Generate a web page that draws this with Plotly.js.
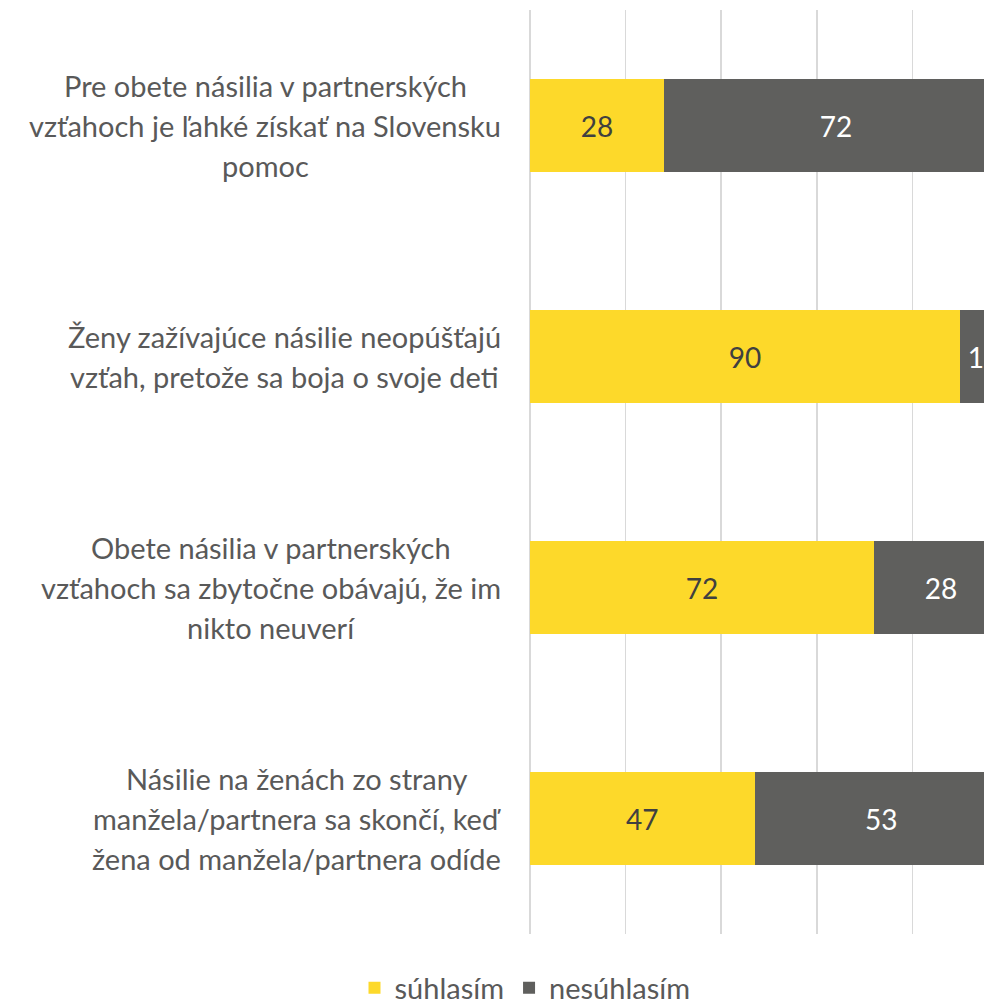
<!DOCTYPE html>
<html>
<head>
<meta charset="utf-8">
<script src="https://cdn.plot.ly/plotly-3.0.1.min.js"></script>
<style>
  html, body { margin: 0; padding: 0; overflow: hidden; background: #fff; }
</style>
</head>
<body>
<div id="chart"></div>
<script>
// data
var categories = [
    'Pre obete násilia v partnerských<br>vzťahoch je ľahké získať na Slovensku<br>pomoc',
    'Ženy zažívajúce násilie neopúšťajú<br>vzťah, pretože sa boja o svoje deti',
    'Obete násilia v partnerských<br>vzťahoch sa zbytočne obávajú, že im<br>nikto neuverí',
    'Násilie na ženách zo strany<br>manžela/partnera sa skončí, keď<br>žena od manžela/partnera odíde'
];
var suhlasim = [28, 90, 72, 47];
var nesuhlasim = [72, 10, 28, 53];
var seriesNames = ['súhlasím', 'nesúhlasím'];

var FONT = 'Lato, "Open Sans", sans-serif';
var FS = 29;
var W = 1008, H = 1002, ML = 530, MT = 10, MB = 68;
var plotW = W - ML;

var agree = {
    y: categories,
    x: suhlasim,
    name: seriesNames[0],
    type: 'bar',
    orientation: 'h',
    text: suhlasim.map(String),
    textposition: 'inside',
    insidetextanchor: 'middle',
    textfont: {family: FONT, size: 28, color: '#404040'},
    hoverinfo: 'x+name',
    marker: {color: '#FDD92A'}
};

var disagree = {
    y: categories,
    x: nesuhlasim,
    name: seriesNames[1],
    type: 'bar',
    orientation: 'h',
    text: nesuhlasim.map(String),
    textposition: 'inside',
    insidetextanchor: 'middle',
    textfont: {family: FONT, size: 28, color: '#ffffff'},
    hoverinfo: 'x+name',
    marker: {color: '#5F5F5D'}
};

// category labels: lines centred in a block whose right edge is at ~500px
var ctx = document.createElement('canvas').getContext('2d');
ctx.font = FS + 'px Lato';
var annotations = [];
categories.forEach(function (cat) {
    var lines = cat.split('<br>');
    var widest = Math.max.apply(null, lines.map(function (l) { return ctx.measureText(l).width; }));
    var cx = 501 - widest / 2;
    lines.forEach(function (line, i) {
        annotations.push({
            xref: 'paper', yref: 'y',
            x: (cx - ML) / plotW, y: cat,
            xanchor: 'center', yanchor: 'middle',
            yshift: ((lines.length - 1) / 2 - i) * 40,
            text: line, showarrow: false,
            font: {family: FONT, size: FS, color: '#595959'}
        });
    });
});

var layout = {
    width: W,
    height: H,
    margin: {l: ML, r: 0, t: MT, b: MB, autoexpand: false},
    barmode: 'stack',
    bargap: 0.6,
    paper_bgcolor: '#fff',
    plot_bgcolor: '#fff',
    showlegend: true,
    legend: {
        orientation: 'h',
        x: (525 - ML) / plotW, xanchor: 'center',
        y: -54 / (H - MT - MB), yanchor: 'middle',
        font: {family: FONT, size: FS, color: '#595959'},
        traceorder: 'normal'
    },
    xaxis: {
        range: [0, 100],
        dtick: 20,
        showticklabels: false,
        showgrid: true,
        gridcolor: '#D9D9D9',
        gridwidth: 1.5,
        zeroline: true,
        zerolinecolor: '#D9D9D9',
        zerolinewidth: 1.5,
        fixedrange: true
    },
    yaxis: {
        autorange: 'reversed',
        showticklabels: false,
        showgrid: false,
        zeroline: false,
        fixedrange: true
    },
    annotations: annotations
};

Plotly.newPlot('chart', [agree, disagree], layout, {displayModeBar: false, staticPlot: true});
</script>
</body>
</html>
